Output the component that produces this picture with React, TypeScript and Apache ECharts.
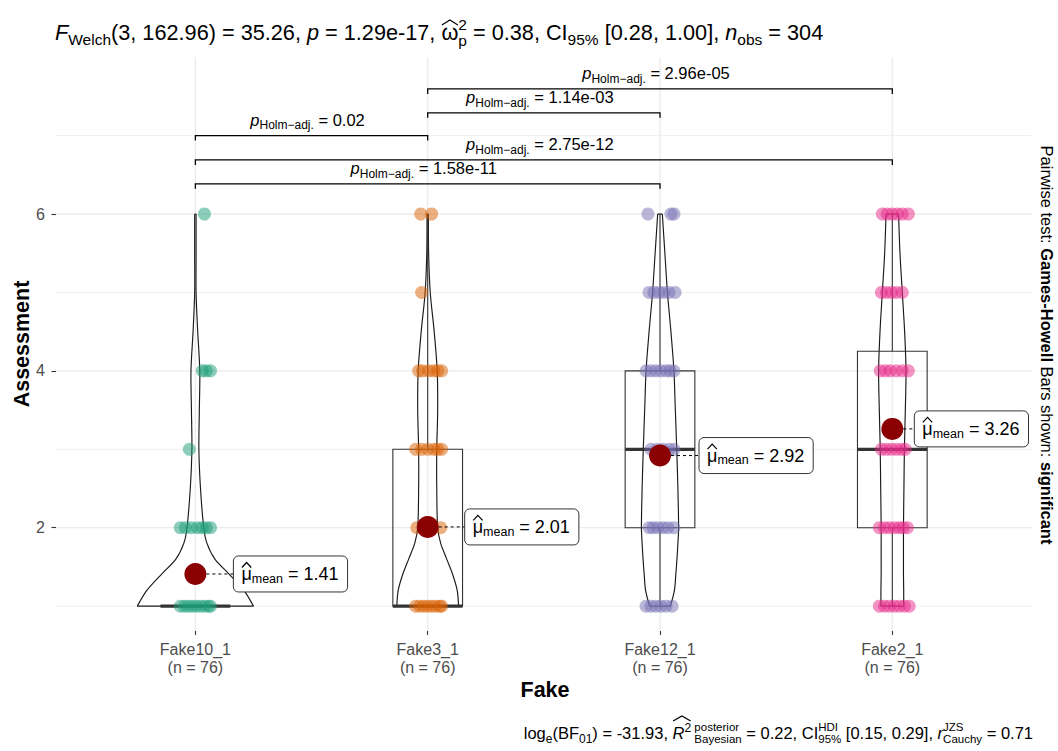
import React, { useEffect, useRef } from 'react';
import * as echarts from 'echarts';

// ---------------- data ----------------
const CATEGORIES = ['Fake10_1', 'Fake3_1', 'Fake12_1', 'Fake2_1'];
const N_OBS = [76, 76, 76, 76];
const MEANS = [1.41, 2.01, 2.92, 3.26];
const COLORS = ['#1B9E77', '#D95F02', '#7570B3', '#E7298A'];
const Y_TICKS = [2, 4, 6];

// boxplot stats: [lower whisker, Q1, median, Q3, upper whisker]
const BOX_FAKE10_1 = [1, 1, 1, 1, 1];
const BOX_FAKE3_1 = [1, 1, 1, 3, 6];
const BOX_FAKE12_1 = [1, 2, 3, 4, 6];
const BOX_FAKE2_1 = [1, 2, 3, 4.25, 6];

// violin half widths (category units) at VIOLIN_Y
const VIOLIN_Y = [1, 1.2, 1.4, 1.6, 1.8, 2, 2.5, 3, 3.5, 4, 4.5, 5, 5.5, 6];
const VIOLIN_FAKE10_1 = [0.25, 0.209, 0.148, 0.084, 0.05, 0.036, 0.022, 0.015, 0.017, 0.019, 0.01, 0.003, 0.003, 0.003];
const VIOLIN_FAKE3_1 = [0.133, 0.127, 0.108, 0.082, 0.056, 0.043, 0.039, 0.039, 0.043, 0.041, 0.028, 0.011, 0.004, 0.003];
const VIOLIN_FAKE12_1 = [0.045, 0.062, 0.068, 0.073, 0.077, 0.08, 0.077, 0.072, 0.066, 0.06, 0.047, 0.032, 0.021, 0.01];
const VIOLIN_FAKE2_1 = [0.049, 0.049, 0.048, 0.048, 0.048, 0.048, 0.05, 0.052, 0.056, 0.059, 0.053, 0.043, 0.033, 0.027];

// jittered observations: [value, horizontal jitter offset]
const PTS_FAKE10_1 = [
  [1, -0.065], [1, -0.047], [1, -0.03], [1, -0.013], [1, 0.004], [1, 0.022], [1, 0.039], [1, 0.056], [1, 0.065],
  [2, -0.065], [2, -0.043], [2, -0.017], [2, 0.009], [2, 0.03], [2, 0.047], [2, 0.065],
  [3, -0.026],
  [4, 0.03], [4, 0.047], [4, 0.065],
  [6, 0.039],
];
const PTS_FAKE3_1 = [
  [1, -0.052], [1, -0.034], [1, -0.017], [1, 0], [1, 0.017], [1, 0.034], [1, 0.052], [1, 0.06],
  [2, -0.047], [2, 0], [2, 0.056],
  [3, -0.052], [3, -0.026], [3, 0], [3, 0.026], [3, 0.043], [3, 0.06],
  [4, -0.039], [4, -0.022], [4, 0.004], [4, 0.026], [4, 0.043], [4, 0.06],
  [5, -0.026],
  [6, -0.03], [6, 0.017],
];
const PTS_FAKE12_1 = [
  [1, -0.06], [1, -0.039], [1, -0.017], [1, 0.004], [1, 0.026], [1, 0.052],
  [2, -0.047], [2, -0.03], [2, -0.009], [2, 0.013], [2, 0.034], [2, 0.06],
  [3, -0.039], [3, -0.013], [3, 0.013], [3, 0.039], [3, 0.06],
  [4, -0.06], [4, -0.039], [4, -0.017], [4, 0.004], [4, 0.026], [4, 0.043], [4, 0.06],
  [5, -0.047], [5, -0.026], [5, -0.004], [5, 0.017], [5, 0.039], [5, 0.065],
  [6, -0.052], [6, 0.047], [6, 0.06],
];
const PTS_FAKE2_1 = [
  [1, -0.056], [1, -0.034], [1, -0.013], [1, 0.009], [1, 0.03], [1, 0.052], [1, 0.073],
  [2, -0.056], [2, -0.034], [2, -0.013], [2, 0.009], [2, 0.03], [2, 0.047], [2, 0.065],
  [3, -0.047], [3, -0.026], [3, -0.004], [3, 0.017], [3, 0.039], [3, 0.056],
  [4, -0.052], [4, -0.03], [4, -0.009], [4, 0.017], [4, 0.043], [4, 0.069],
  [5, -0.047], [5, -0.026], [5, -0.004], [5, 0.017], [5, 0.043],
  [6, -0.043], [6, -0.022], [6, 0], [6, 0.022], [6, 0.043], [6, 0.069],
];

// pairwise comparisons
const BRACKET_FROM = [1, 1, 1, 2, 2];
const BRACKET_TO = [2, 4, 3, 3, 4];
const BRACKET_Y = [7.0, 6.69, 6.385, 7.29, 7.595];
const BRACKET_P = ['0.02', '2.75e-12', '1.58e-11', '1.14e-03', '2.96e-05'];

const GRID_MAJOR_Y = [2, 4, 6];
const GRID_MINOR_Y = [1, 3, 5, 7];

// ---------------- layout / style ----------------
const BOXES = [BOX_FAKE10_1, BOX_FAKE3_1, BOX_FAKE12_1, BOX_FAKE2_1];
const VIOLINS = [VIOLIN_FAKE10_1, VIOLIN_FAKE3_1, VIOLIN_FAKE12_1, VIOLIN_FAKE2_1];
const POINTS = [PTS_FAKE10_1, PTS_FAKE3_1, PTS_FAKE12_1, PTS_FAKE2_1];
const LABEL_DX = [38, 37, 39, 22];
const X_MIN = 0.4;
const X_MAX = 4.6;
const Y_MIN = 0.683;
const Y_MAX = 8;
const FONT = '"Liberation Sans", Arial, Helvetica, sans-serif';

let _ctx: CanvasRenderingContext2D | null = null;
function textWidth(t: string, fs: number, it?: boolean, b?: boolean) {
  if (!_ctx) _ctx = document.createElement('canvas').getContext('2d');
  _ctx!.font = `${it ? 'italic ' : ''}${b ? 'bold ' : ''}${fs}px ${FONT}`;
  return _ctx!.measureText(t).width;
}

type Seg = { t: string; fs: number; it?: boolean; b?: boolean; dy?: number; hold?: boolean; hat?: number; hatW?: number };

function layoutText(segs: Seg[], x: number, base: number, align: string, color = '#000') {
  const xs: number[] = [];
  const ws: number[] = [];
  let cur = 0;
  let holdX: number | null = null;
  let holdW = 0;
  for (const s of segs) {
    const w = textWidth(s.t, s.fs, s.it, s.b);
    ws.push(w);
    if (holdX !== null) {
      xs.push(holdX);
      cur = holdX + Math.max(holdW, w);
      holdX = null;
    } else if (s.hold) {
      xs.push(cur);
      holdX = cur;
      holdW = w;
    } else {
      xs.push(cur);
      cur += w;
    }
  }
  const total = cur;
  const x0 = align === 'left' ? x : align === 'center' ? x - total / 2 : x - total;
  const els: any[] = [];
  segs.forEach((s, k) => {
    const bx = x0 + xs[k];
    const by = base + (s.dy || 0);
    els.push({
      type: 'text',
      x: bx,
      y: by - 0.34 * s.fs,
      silent: true,
      style: {
        text: s.t,
        fontSize: s.fs,
        fontFamily: FONT,
        fontStyle: s.it ? 'italic' : 'normal',
        fontWeight: s.b ? 'bold' : 'normal',
        fill: color,
        align: 'left',
        verticalAlign: 'middle',
      },
    });
    if (s.hat) {
      const hw = s.hatW ?? ws[k];
      const top = by - s.hat;
      els.push({
        type: 'polyline',
        silent: true,
        shape: { points: [[bx + 0.5, top + 5], [bx + hw / 2, top], [bx + hw - 0.5, top + 5]] },
        style: { stroke: color, lineWidth: 1.2, fill: 'none' },
      });
    }
  });
  return { els, width: total };
}

function buildOption() {
  const M = 21.7;
  const S = 15.5;
  const titleSegs: Seg[] = [
    { t: 'F', fs: M, it: true },
    { t: 'Welch', fs: S, dy: 5 },
    { t: '(3, 162.96) = 35.26, ', fs: M },
    { t: 'p', fs: M, it: true },
    { t: ' = 1.29e-17, ', fs: M },
    { t: 'ω', fs: M, hat: 20 },
    { t: '2', fs: S, dy: -10, hold: true },
    { t: 'p', fs: S, dy: 6 },
    { t: ' = 0.38, CI', fs: M },
    { t: '95%', fs: S, dy: 5 },
    { t: ' [0.28, 1.00], ', fs: M },
    { t: 'n', fs: M, it: true },
    { t: 'obs', fs: S, dy: 5 },
    { t: ' = 304', fs: M },
  ];
  const title = layoutText(titleSegs, 55, 40, 'left');

  const rW = textWidth('R', 16.5, true) + textWidth('2', 12);
  const captionSegs: Seg[] = [
    { t: 'log', fs: 16.5 },
    { t: 'e', fs: 12, dy: 4 },
    { t: '(BF', fs: 16.5 },
    { t: '01', fs: 12, dy: 4 },
    { t: ') = -31.93, ', fs: 16.5 },
    { t: 'R', fs: 16.5, it: true, hat: 23, hatW: rW },
    { t: '2', fs: 12, dy: -7 },
    { t: ' posterior', fs: 11.5, dy: -8, hold: true },
    { t: ' Bayesian', fs: 11.5, dy: 4 },
    { t: ' = 0.22, CI', fs: 16.5 },
    { t: 'HDI', fs: 11.5, dy: -8, hold: true },
    { t: '95%', fs: 11.5, dy: 4 },
    { t: ' [0.15, 0.29], ', fs: 16.5 },
    { t: 'r', fs: 16.5, it: true },
    { t: 'JZS', fs: 11.5, dy: -8, hold: true },
    { t: 'Cauchy', fs: 11.5, dy: 4 },
    { t: ' = 0.71', fs: 16.5 },
  ];
  const caption = layoutText(captionSegs, 1033, 739, 'right');

  const subSegs: Seg[] = [
    { t: 'Pairwise test: ', fs: 16.5 },
    { t: 'Games-Howell', fs: 16.5, b: true },
    { t: ' Bars shown: ', fs: 16.5 },
    { t: 'significant', fs: 16.5, b: true },
  ];
  const sub = layoutText(subSegs, 0, 0.34 * 16.5, 'center');

  const graphic: any[] = [
    ...title.els,
    ...caption.els,
    { type: 'group', x: 1047, y: 345, rotation: -Math.PI / 2, children: sub.els },
    {
      type: 'text', x: 22, y: 344, rotation: Math.PI / 2,
      style: { text: 'Assessment', fontSize: 21.5, fontWeight: 'bold', fontFamily: FONT, fill: '#000', align: 'center', verticalAlign: 'middle' },
    },
    {
      type: 'text', x: 545, y: 690,
      style: { text: 'Fake', fontSize: 21.5, fontWeight: 'bold', fontFamily: FONT, fill: '#000', align: 'center', verticalAlign: 'middle' },
    },
  ];

  const gridSeries = {
    type: 'custom',
    z: 1,
    silent: true,
    data: [[1, 1]],
    renderItem: (_p: any, api: any) => {
      const children: any[] = [];
      GRID_MINOR_Y.forEach((y) => {
        const a = api.coord([X_MIN, y]);
        const b = api.coord([X_MAX, y]);
        children.push({ type: 'line', shape: { x1: a[0], y1: a[1], x2: b[0], y2: b[1] }, style: { stroke: '#F0F0F0', lineWidth: 1 } });
      });
      GRID_MAJOR_Y.forEach((y) => {
        const a = api.coord([X_MIN, y]);
        const b = api.coord([X_MAX, y]);
        children.push({ type: 'line', shape: { x1: a[0], y1: a[1], x2: b[0], y2: b[1] }, style: { stroke: '#EBEBEB', lineWidth: 1.3 } });
      });
      CATEGORIES.forEach((_c, i) => {
        const a = api.coord([i + 1, Y_MIN]);
        const b = api.coord([i + 1, Y_MAX]);
        children.push({ type: 'line', shape: { x1: a[0], y1: a[1], x2: b[0], y2: b[1] }, style: { stroke: '#EBEBEB', lineWidth: 1.3 } });
      });
      return { type: 'group', children };
    },
  };

  const violinSeries = {
    type: 'custom',
    z: 2,
    silent: true,
    data: CATEGORIES.map((_c, i) => [i + 1, MEANS[i]]),
    renderItem: (params: any, api: any) => {
      const i = params.dataIndex;
      const half = VIOLINS[i];
      const c = i + 1;
      const left = VIOLIN_Y.map((y, k) => api.coord([c - half[k], y]));
      const right = VIOLIN_Y.map((y, k) => api.coord([c + half[k], y]));
      const n = VIOLIN_Y.length - 1;
      const st = { stroke: '#1a1a1a', lineWidth: 1.15, fill: 'none' };
      return {
        type: 'group',
        children: [
          { type: 'polyline', shape: { points: left, smooth: 0.3 }, style: st },
          { type: 'polyline', shape: { points: right, smooth: 0.3 }, style: st },
          { type: 'line', shape: { x1: left[0][0], y1: left[0][1], x2: right[0][0], y2: right[0][1] }, style: st },
          { type: 'line', shape: { x1: left[n][0], y1: left[n][1], x2: right[n][0], y2: right[n][1] }, style: st },
        ],
      };
    },
  };

  const boxSeries = {
    type: 'custom',
    z: 3,
    silent: true,
    data: CATEGORIES.map((_c, i) => [i + 1, MEANS[i]]),
    renderItem: (params: any, api: any) => {
      const i = params.dataIndex;
      const [lo, q1, med, q3, hi] = BOXES[i];
      const c = i + 1;
      const pLo = api.coord([c, lo]);
      const pQ1 = api.coord([c - 0.15, q1]);
      const pQ3 = api.coord([c + 0.15, q3]);
      const pMedL = api.coord([c - 0.15, med]);
      const pMedR = api.coord([c + 0.15, med]);
      const pHi = api.coord([c, hi]);
      const cx = pLo[0];
      const st = { stroke: '#333333', lineWidth: 1.1, fill: 'none' };
      return {
        type: 'group',
        children: [
          { type: 'line', shape: { x1: cx, y1: pLo[1], x2: cx, y2: pQ1[1] }, style: st },
          { type: 'line', shape: { x1: cx, y1: pQ3[1], x2: cx, y2: pHi[1] }, style: st },
          { type: 'rect', shape: { x: pQ1[0], y: pQ3[1], width: pQ3[0] - pQ1[0], height: pQ1[1] - pQ3[1] }, style: st },
          { type: 'line', shape: { x1: pMedL[0], y1: pMedL[1], x2: pMedR[0], y2: pMedR[1] }, style: { stroke: '#333333', lineWidth: 3.2 } },
        ],
      };
    },
  };

  const pointSeries = POINTS.map((pts, i) => ({
    type: 'scatter',
    z: 4,
    silent: true,
    symbolSize: 13,
    itemStyle: { color: COLORS[i], opacity: 0.5 },
    data: pts.map(([v, off]) => [i + 1 + off, v]),
  }));

  const meanDotSeries = {
    type: 'scatter',
    z: 5,
    silent: true,
    symbolSize: 22,
    itemStyle: { color: '#8B0000', opacity: 1 },
    data: CATEGORIES.map((_c, i) => [i + 1, MEANS[i]]),
  };

  const meanLabelSeries = {
    type: 'custom',
    z: 6,
    silent: true,
    data: CATEGORIES.map((_c, i) => [i + 1, MEANS[i]]),
    renderItem: (params: any, api: any) => {
      const i = params.dataIndex;
      const p = api.coord([api.value(0), api.value(1)]);
      const left = p[0] + LABEL_DX[i];
      const cy = p[1];
      const { els, width } = layoutText(
        [
          { t: 'μ', fs: 18, hat: 18 },
          { t: 'mean', fs: 12.5, dy: 2.5 },
          { t: ' = ' + MEANS[i].toFixed(2), fs: 18 },
        ],
        left + 8,
        cy + 6.5,
        'left'
      );
      return {
        type: 'group',
        children: [
          { type: 'line', shape: { x1: p[0] + 11, y1: p[1], x2: left, y2: p[1] }, style: { stroke: '#000', lineWidth: 1, lineDash: [3, 3] } },
          { type: 'rect', shape: { x: left, y: cy - 18, width: width + 17, height: 36, r: 5 }, style: { fill: '#fff', stroke: '#333', lineWidth: 1 } },
          ...els,
        ],
      };
    },
  };

  const bracketSeries = {
    type: 'custom',
    z: 6,
    silent: true,
    data: BRACKET_Y.map((y, k) => [(BRACKET_FROM[k] + BRACKET_TO[k]) / 2, y]),
    renderItem: (params: any, api: any) => {
      const k = params.dataIndex;
      const a = api.coord([BRACKET_FROM[k], BRACKET_Y[k]]);
      const b = api.coord([BRACKET_TO[k], BRACKET_Y[k]]);
      const tip = 5;
      const { els } = layoutText(
        [
          { t: 'p', fs: 16.5, it: true },
          { t: 'Holm\u2212adj.', fs: 12, dy: 4 },
          { t: ' = ' + BRACKET_P[k], fs: 16.5 },
        ],
        (a[0] + b[0]) / 2 - 4,
        a[1] - 10,
        'center'
      );
      return {
        type: 'group',
        children: [
          {
            type: 'polyline',
            shape: { points: [[a[0], a[1] + tip], [a[0], a[1]], [b[0], b[1]], [b[0], b[1] + tip]] },
            style: { stroke: '#000', lineWidth: 1.3, fill: 'none' },
          },
          ...els,
        ],
      };
    },
  };

  return {
    animation: false,
    backgroundColor: '#fff',
    grid: { left: 56, right: 26.3, top: 57.15, bottom: 120, containLabel: false },
    xAxis: {
      type: 'value',
      min: X_MIN,
      max: X_MAX,
      axisLine: { show: false },
      splitLine: { show: false },
      axisTick: { show: true, customValues: [1, 2, 3, 4], length: 4, lineStyle: { color: '#333333', width: 1.1 } },
      axisLabel: {
        customValues: [1, 2, 3, 4],
        margin: 9,
        fontSize: 16,
        lineHeight: 18,
        color: '#4D4D4D',
        fontFamily: FONT,
        formatter: (v: number) => {
          const i = Math.round(v) - 1;
          return `${CATEGORIES[i]}\n(n = ${N_OBS[i]})`;
        },
      },
    },
    yAxis: {
      type: 'value',
      min: Y_MIN,
      max: Y_MAX,
      axisLine: { show: false },
      splitLine: { show: false },
      axisTick: { show: true, customValues: Y_TICKS, length: 4.5, lineStyle: { color: '#333333', width: 1.1 } },
      axisLabel: {
        customValues: Y_TICKS,
        margin: 11,
        fontSize: 16,
        color: '#4D4D4D',
        fontFamily: FONT,
        formatter: (v: number) => String(v),
      },
    },
    graphic,
    series: [gridSeries, violinSeries, boxSeries, ...pointSeries, meanDotSeries, meanLabelSeries, bracketSeries],
  };
}

export default function App() {
  const ref = useRef<HTMLDivElement>(null);
  useEffect(() => {
    document.body.style.margin = '0';
    const chart = echarts.init(ref.current!, null, { renderer: 'svg' });
    chart.setOption(buildOption() as any);
    return () => chart.dispose();
  }, []);
  return <div ref={ref} style={{ position: 'fixed', left: 0, top: 0, width: 1058, height: 751, background: '#fff' }} />;
}
